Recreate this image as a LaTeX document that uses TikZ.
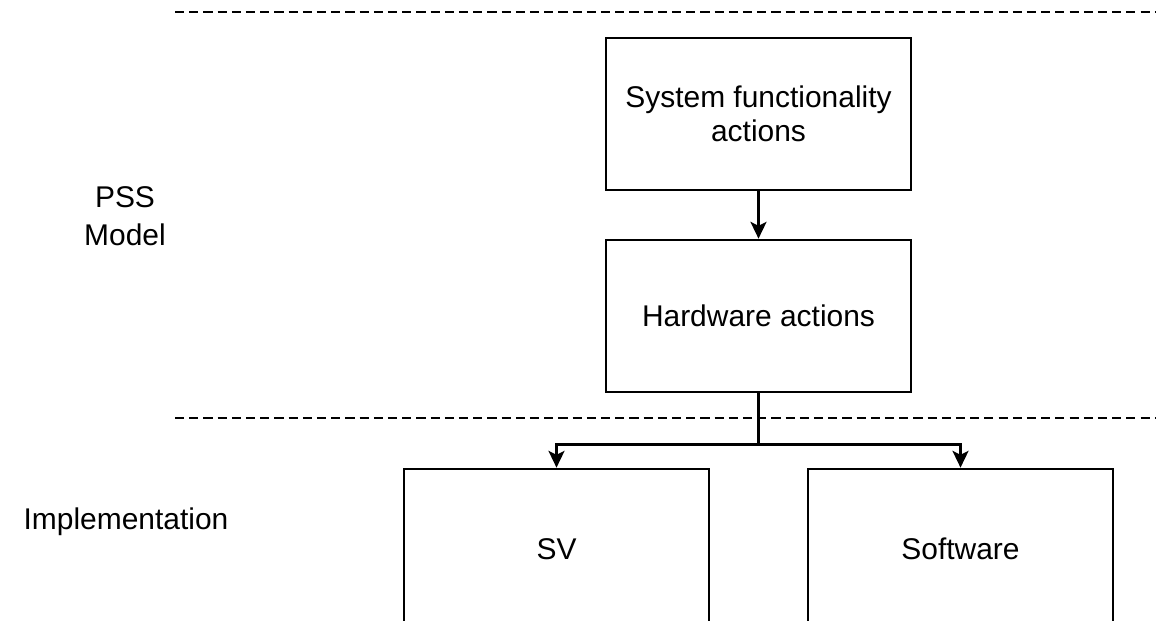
\documentclass[tikz,border=0pt]{standalone}
\usepackage{fontspec}
\setmainfont{Liberation Sans}
\usetikzlibrary{arrows.meta,calc}

\begin{document}
\begin{tikzpicture}[
    blk/.style={rectangle, draw, line width=1.9pt, minimum width=7.625cm,
                minimum height=3.8cm, align=center, font=\fontsize{21.3}{24}\selectfont},
    lbl/.style={align=center, font=\fontsize{21.3}{27}\selectfont},
    sep/.style={line width=1.4pt, dash pattern=on 6.5pt off 3.6pt},
    arr/.style={line width=1.9pt, -{Stealth[length=0.42cm, width=0.4cm, inset=0.1cm]}}
  ]
  \useasboundingbox (0,0) rectangle (29.05,15.5);
  % separators
  \coordinate (s1a) at (4.375,15.2);
  \coordinate (s1b) at (28.875,15.2);
  \coordinate (s2a) at (4.375,5.05);
  \coordinate (s2b) at (28.875,5.05);
  \draw[sep] (s1a) -- (s1b);
  \draw[sep] (s2a) -- (s2b);
  % labels
  \node[lbl] (pss)  at (3.125,10.1) {PSS\\Model};
  \node[lbl] (impl) at (3.15,2.45)  {Implementation};
  % boxes
  \node[blk] (sys) at (18.9625,12.65) {System functionality\\actions};
  \node[blk] (hw)  at (18.9625,7.6)   {Hardware actions};
  \node[blk, minimum height=4cm] (sv) at (13.9125,1.775) {SV};
  \node[blk, minimum height=4cm] (sw) at (24.0125,1.775) {Software};
  % connectors
  \draw[arr] (sys) -- (hw);
  \coordinate (fork) at ($(hw.south)+(0,-1.275)$);
  \draw[line width=1.9pt] (hw.south) -- (fork);
  \draw[arr] (fork) -| (sv.north);
  \draw[arr] (fork) -| (sw.north);
\end{tikzpicture}
\end{document}
